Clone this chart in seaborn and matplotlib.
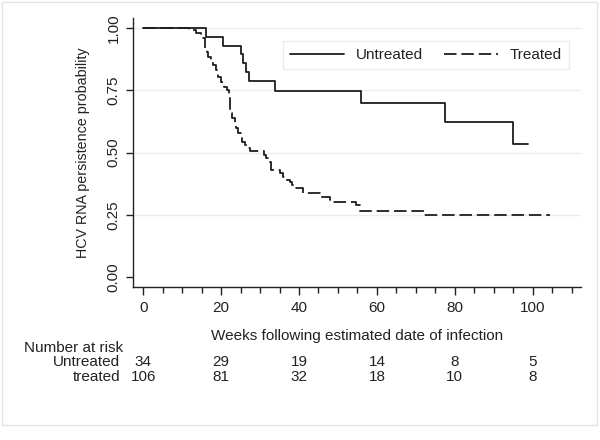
import matplotlib
matplotlib.use("Agg")
import matplotlib.pyplot as plt
import matplotlib.patches as mpatches
import matplotlib.transforms as mtransforms
import seaborn as sns
import pandas as pd

# ---- data ----
untreated_weeks = [0, 16.1, 20.4, 25.1, 25.6, 26.3, 27.1, 33.9, 55.9, 77.6, 95.0, 98.9]
untreated_prob = [1.0, 0.963, 0.929, 0.894, 0.858, 0.824, 0.786, 0.748, 0.699, 0.621, 0.533, 0.533]

treated_weeks = [0, 11.8, 13.5, 14.8, 15.2, 15.8, 16.0, 16.3, 16.7, 17.3, 17.9, 18.6, 19.2,
                 20.1, 20.8, 21.4, 22.0, 22.2, 22.4, 22.8, 23.5, 23.9, 24.4, 25.1, 25.4,
                 26.1, 26.8, 27.4, 31.0, 31.6, 32.5, 32.9, 35.1, 35.9, 36.3, 37.6, 38.1,
                 38.6, 41.0, 45.3, 47.9, 48.7, 54.7, 55.7, 72.2, 104.3]
treated_prob = [1.0, 0.991, 0.981, 0.972, 0.961, 0.945, 0.918, 0.905, 0.885, 0.865, 0.851,
                0.831, 0.804, 0.784, 0.764, 0.751, 0.731, 0.691, 0.657, 0.637, 0.617, 0.597,
                0.577, 0.561, 0.543, 0.530, 0.517, 0.506, 0.490, 0.477, 0.463, 0.430, 0.416,
                0.403, 0.390, 0.383, 0.369, 0.356, 0.336, 0.323, 0.309, 0.302, 0.289, 0.264,
                0.248, 0.248]

risk_weeks = [0, 20, 40, 60, 80, 100]
risk_untreated = [34, 29, 19, 14, 8, 5]
risk_treated = [106, 81, 32, 18, 10, 8]

y_ticks = [0.0, 0.25, 0.5, 0.75, 1.0]
y_ticklabels = ["0.00", "0.25", "0.50", "0.75", "1.00"]
x_major = [0, 20, 40, 60, 80, 100]
x_minor = list(range(0, 115, 5))

# ---- style ----
sns.set_style("white")
plt.rcParams['font.family'] = ['Liberation Sans', 'DejaVu Sans']
plt.rcParams['lines.scale_dashes'] = False

FS = 11
W, H = 600, 440
fig = plt.figure(figsize=(6, 4.4), dpi=100)
fig.patch.set_facecolor("white")

left, right, top, bottom = 133, 580.7, 18, 287.3
ax = fig.add_axes([left / W, 1 - bottom / H, (right - left) / W, (bottom - top) / H])

df_u = pd.DataFrame({"week": untreated_weeks, "prob": untreated_prob})
df_t = pd.DataFrame({"week": treated_weeks, "prob": treated_prob})

line_col = "#1e1e1e"
sns.lineplot(data=df_u, x="week", y="prob", ax=ax, drawstyle="steps-post",
             estimator=None, sort=False, color=line_col, linewidth=1.3,
             label="Untreated")
sns.lineplot(data=df_t, x="week", y="prob", ax=ax, drawstyle="steps-post",
             estimator=None, sort=False, color=line_col, linewidth=1.3,
             label="Treated", dashes=False)
ax.lines[1].set_dashes((9, 3.5))

ax.set_xlim(-2.6, 112.3)
ax.set_ylim(-0.041, 1.04)

# grid lines
for yv in y_ticks[1:]:
    ax.axhline(yv, color="#ececec", linewidth=1.0, zorder=0)

ax.set_yticks(y_ticks)
ax.set_yticklabels(y_ticklabels, rotation=90, va="center")
ax.set_xticks(x_major)
ax.set_xticklabels([str(v) for v in x_major])
ax.set_xticks(x_minor, minor=True)
ax.tick_params(axis="x", which="major", direction="out", length=6, width=1,
               color="#222222", pad=4, labelsize=FS, labelcolor="#222222", bottom=True)
ax.tick_params(axis="x", which="minor", direction="out", length=4, width=1,
               color="#222222", bottom=True)
ax.tick_params(axis="y", which="major", direction="out", length=5, width=1,
               color="#222222", pad=4, labelsize=FS, labelcolor="#222222", left=True)

for s in ["top", "right"]:
    ax.spines[s].set_visible(False)
for s in ["left", "bottom"]:
    ax.spines[s].set_color("#222222")
    ax.spines[s].set_linewidth(1.0)

ax.set_ylabel("HCV RNA persistence probability", fontsize=10.3, color="#222222")
ax.yaxis.set_label_coords((83 - left) / (right - left), 0.5)
ax.yaxis.label.set_va("center")
ax.set_xlabel("Weeks following estimated date of infection", fontsize=FS, color="#222222")
ax.xaxis.set_label_coords(0.5, (bottom - 336) / (bottom - top))
ax.xaxis.label.set_va("center")

leg = ax.legend(loc="upper right", bbox_to_anchor=(0.991, 0.943), ncol=2,
                frameon=True, fancybox=False, edgecolor="#e6e6e6", fontsize=FS,
                handlelength=3.5, handletextpad=0.8, columnspacing=1.4,
                borderpad=0.45)
leg.get_frame().set_linewidth(1.0)
for t in leg.get_texts():
    t.set_color("#222222")

# number at risk table
def fy(py):
    return 1 - py / H

trans = mtransforms.blended_transform_factory(ax.transData, fig.transFigure)
fig.text(24 / W, fy(348), "Number at risk", fontsize=FS, color="#222222",
         ha="left", va="center")
fig.text(120 / W, fy(362), "Untreated", fontsize=FS, color="#222222",
         ha="right", va="center")
fig.text(120 / W, fy(377), "treated", fontsize=FS, color="#222222",
         ha="right", va="center")
for wk, n in zip(risk_weeks, risk_untreated):
    ax.text(wk, fy(362), str(n), transform=trans, fontsize=FS, color="#222222",
            ha="center", va="center")
for wk, n in zip(risk_weeks, risk_treated):
    ax.text(wk, fy(377), str(n), transform=trans, fontsize=FS, color="#222222",
            ha="center", va="center")

# outer light border
fig.patches.append(mpatches.Rectangle((2 / W, fy(425)), 595 / W, (423) / H,
                                      transform=fig.transFigure, fill=False,
                                      edgecolor="#e4e4e4", linewidth=1.0))

fig.savefig("out.png", dpi=100)
